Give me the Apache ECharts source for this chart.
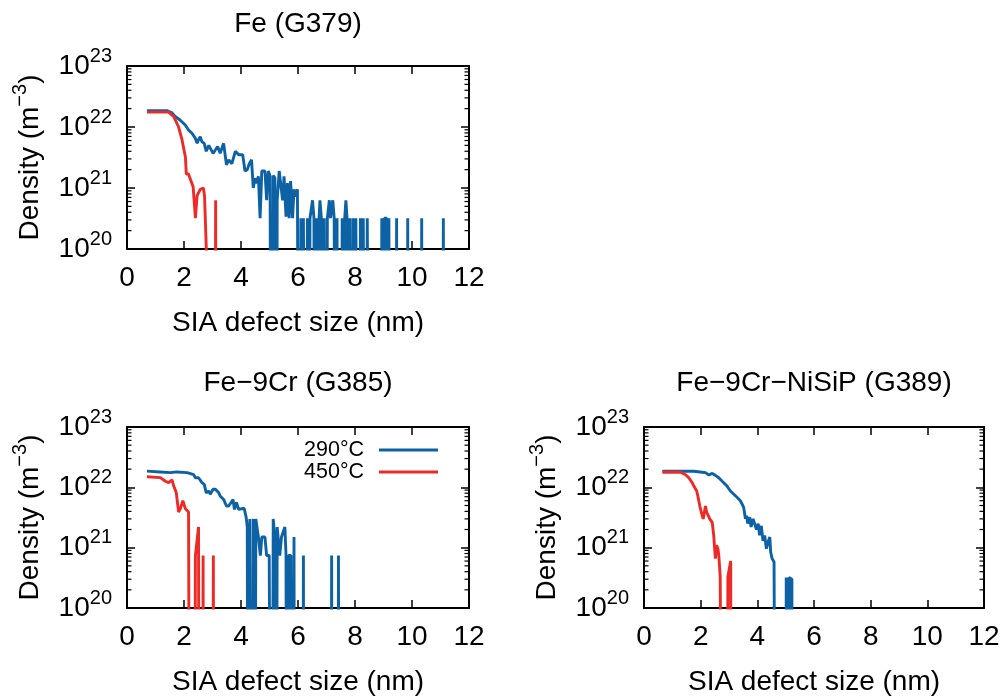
<!DOCTYPE html>
<html><head><meta charset="utf-8">
<script src="https://cdn.jsdelivr.net/npm/echarts@6/dist/echarts.min.js"></script>
<style>html,body{margin:0;padding:0;background:#fff}#c{width:1004px;height:697px}</style>
</head><body><div id="c"></div>
<script>
// ---------------- data (x: SIA defect size in nm, y: density in m^-3; 0 = no defects) ----------------
const panelTitles = ['Fe (G379)', 'Fe\u22129Cr (G385)', 'Fe\u22129Cr\u2212NiSiP (G389)'];
const seriesNames = ['290°C', '450°C'];
const xTickValues = [0, 2, 4, 6, 8, 10, 12];
const yDecades = [20, 21, 22, 23];

const fe290 = [
[0.70,1.85e22],[1.40,1.85e22],[1.58,1.7e22],[1.70,1.48e22],[1.87,1.29e22],[2.05,1.07e22],[2.16,8.9e21],[2.28,7.9e21],[2.40,6.5e21],[2.46,5.4e21],[2.51,6.2e21],[2.57,6.9e21],[2.63,5.7e21],[2.71,5.4e21],[2.78,4.0e21],[2.87,5.0e21],[2.92,4.5e21],[3.02,3.7e21],[3.10,4.2e21],[3.18,4.8e21],[3.27,3.7e21],[3.39,5.4e21],[3.49,2.4e21],[3.57,2.9e21],[3.68,2.5e21],[3.80,4.0e21],[3.92,3.5e21],[3.98,3.7e21],[4.06,3.5e21],[4.14,1.9e21],[4.22,2.0e21],[4.29,2.5e21],[4.37,2.9e21],[4.43,1.0e21],[4.49,1.45e21],[4.55,1.2e21],[4.61,1.55e21],[4.67,3.2e20],[4.73,1.9e21],[4.78,2.0e21],[4.84,1.9e21],[4.90,6.3e20],[4.96,1.9e21],[5.02,1.55e21],[5.08,0],[5.13,1.6e21],[5.19,1.45e21],[5.23,0],[5.27,6.3e20],[5.34,1.9e21],[5.39,1.2e21],[5.46,6.3e20],[5.51,1.55e21],[5.58,3.4e20],[5.63,1.2e21],[5.69,3.2e20],[5.74,1.3e21],[5.81,3.2e20],[5.86,9.5e20],[5.93,7.2e20],[5.98,9.5e20],[6.05,0],
[6.10,3.2e20],[6.15,0],[6.19,3.2e20],[6.24,3.2e20],[6.28,0],[6.33,3.2e20],[6.38,0],[6.42,3.2e20],[6.47,3.2e20],[6.51,6.3e20],[6.56,3.2e20],[6.60,0],[6.65,3.2e20],[6.70,0],[6.74,3.2e20],[6.77,6.3e20],[6.82,3.2e20],[6.87,0],[6.92,3.2e20],[6.97,0],[7.03,3.2e20],[7.10,6.3e20],[7.14,3.2e20],[7.18,3.2e20],[7.22,6.3e20],[7.27,3.2e20],[7.32,0],[7.37,3.2e20],[7.42,0],[7.50,0],[7.55,3.2e20],[7.60,0],[7.64,3.2e20],[7.68,6.3e20],[7.72,3.2e20],[7.77,0],[7.82,3.2e20],[7.87,0],[7.93,3.2e20],[7.98,0],[8.03,3.2e20],[8.08,3.2e20],[8.14,0],[8.19,3.2e20],[8.24,0],[8.29,3.2e20],[8.33,3.2e20],[8.38,0],[8.43,3.2e20],[8.49,3.2e20],[8.53,0],
[8.91,0],[8.94,3.2e20],[8.98,0],[9.03,3.2e20],[9.07,3.2e20],[9.11,3.2e20],[9.15,0],[9.19,3.2e20],[9.23,0],
[9.43,0],[9.46,3.2e20],[9.49,0],[9.82,0],[9.85,3.2e20],[9.88,0],[10.31,0],[10.34,3.2e20],[10.37,0],[11.07,0],[11.10,3.2e20],[11.13,0]
];
const fe450 = [
[0.70,1.75e22],[1.46,1.75e22],[1.64,1.48e22],[1.81,1.0e22],[1.93,6.2e21],[2.05,3.2e21],[2.08,1.7e21],[2.16,1.7e21],[2.22,1.4e21],[2.32,1.05e21],[2.40,3.2e20],[2.46,7.5e20],[2.57,9.5e20],[2.68,1.0e21],[2.72,7.5e20],[2.79,8e19],[2.80,0],
[3.07,0],[3.11,6.3e20],[3.14,0]
];
const fecr290 = [
[0.70,1.86e22],[1.17,1.8e22],[1.52,1.75e22],[1.75,1.8e22],[2.11,1.75e22],[2.34,1.62e22],[2.40,1.44e22],[2.46,1.54e22],[2.51,1.44e22],[2.63,1.2e22],[2.71,1.12e22],[2.78,8.1e21],[2.87,8.7e21],[2.92,7.7e21],[3.02,9.3e21],[3.10,9.3e21],[3.22,8.1e21],[3.27,7.2e21],[3.39,6.3e21],[3.49,4.9e21],[3.57,4.9e21],[3.63,5.2e21],[3.72,6.3e21],[3.77,4.3e21],[3.84,5.6e21],[3.92,4.3e21],[3.98,4.5e21],[4.11,4.5e21],[4.18,3.2e21],[4.22,2.2e21],[4.26,0],
[4.31,3.0e21],[4.35,0],[4.43,3.0e21],[4.47,0],[4.52,3.0e21],[4.56,3.0e21],[4.61,1.5e21],[4.68,7.4e20],[4.73,1.5e21],[4.78,1.5e21],[4.84,1.5e21],[4.90,7.4e20],[4.95,7.4e20],[4.99,7.4e20],[5.04,7.4e20],[5.08,0],[5.13,3.0e21],[5.19,1.4e21],[5.22,0],[5.27,2.2e21],[5.31,2.2e21],[5.36,7.4e20],[5.42,1.5e21],[5.48,1.4e21],[5.54,2.2e21],[5.58,7.4e20],[5.62,0],[5.67,7.4e20],[5.75,7.4e20],[5.80,0],[5.86,1.5e21],[5.89,0],
[6.16,0],[6.19,7.4e20],[6.22,0],[7.15,0],[7.18,7.4e20],[7.21,0],[7.39,0],[7.42,7.4e20],[7.45,0]
];
const fecr450 = [
[0.70,1.5e22],[1.17,1.45e22],[1.35,1.26e22],[1.46,1.2e22],[1.58,1.33e22],[1.64,1.05e22],[1.73,8.1e21],[1.81,3.9e21],[1.87,4.4e21],[1.96,6.0e21],[2.05,4.4e21],[2.11,4.7e21],[2.16,3.9e21],[2.20,3.9e21],[2.22,0],
[2.36,0],[2.40,7.4e20],[2.51,2.2e21],[2.54,0],[2.64,0],[2.67,7.4e20],[2.70,0],[2.99,0],[3.03,7.4e20],[3.06,0]
];
const nisip290 = [
[0.65,1.85e22],[1.76,1.85e22],[2.05,1.78e22],[2.17,1.75e22],[2.29,1.6e22],[2.41,1.7e22],[2.52,1.58e22],[2.64,1.44e22],[2.76,1.26e22],[2.82,1.2e22],[2.93,1.05e22],[3.05,8.7e21],[3.17,7.7e21],[3.29,6.8e21],[3.40,6.0e21],[3.46,5.3e21],[3.52,4.6e21],[3.58,3.0e21],[3.62,3.4e21],[3.66,2.5e21],[3.73,3.2e21],[3.78,2.2e21],[3.85,3.0e21],[3.91,3.0e21],[3.97,2.0e21],[4.03,2.5e21],[4.08,1.6e21],[4.14,2.3e21],[4.20,1.3e21],[4.26,1.6e21],[4.32,9.6e20],[4.38,1.24e21],[4.44,1.5e21],[4.47,8.5e20],[4.52,6.6e20],[4.59,5.8e20],[4.64,6.2e20],[4.67,0],
[5.00,0],[5.02,3.2e20],[5.08,3.2e20],[5.10,0],[5.12,3.2e20],[5.22,3.0e20],[5.24,0]
];
const nisip450 = [
[0.65,1.78e22],[1.29,1.78e22],[1.47,1.62e22],[1.58,1.44e22],[1.70,1.2e22],[1.76,1.05e22],[1.86,8.7e21],[1.90,7.2e21],[1.97,4.9e21],[2.02,3.9e21],[2.09,3.0e21],[2.17,4.9e21],[2.21,3.9e21],[2.25,4.1e21],[2.32,3.0e21],[2.41,2.6e21],[2.46,1.6e21],[2.52,6.6e20],[2.56,1.1e21],[2.61,9.6e20],[2.64,7.4e20],[2.69,3.3e20],[2.74,3.3e20],[2.79,0],
[2.92,0],[2.96,3.3e20],[3.06,6.0e20],[3.09,0]
];

// ---------------- layout / style ----------------
const FONT = "'Liberation Sans', Arial, Helvetica, sans-serif";
const BLUE = '#0d62a6';
const RED = '#ee2a27';
const LW = 2.9;
const grids = [
  {left:127, top:66, width:342, height:183},
  {left:127, top:427, width:342, height:183},
  {left:644, top:427, width:340, height:183}
];
const titleTops = [10, 369, 369];
const panelData = [[fe290, fe450], [fecr290, fecr450], [nisip290, nisip450]];

const FLOOR = 1e12; // stand-in for zero on the log axis (far below the axis minimum)
const toPlot = arr => arr.map(([x, y]) => [x, y > 0 ? y : FLOOR]);

const minorVals = [];
for (let i = 0; i < yDecades.length - 1; i++)
  for (let m = 2; m <= 9; m++) minorVals.push([0, m * Math.pow(10, yDecades[i])]);

const yMin = Math.pow(10, yDecades[0]), yMax = Math.pow(10, yDecades[yDecades.length - 1]);

const xAxes = [], yAxes = [], series = [], titles = [];
grids.forEach((g, i) => {
  const base = {
    type:'value', min:xTickValues[0], max:xTickValues[xTickValues.length-1], interval:2, gridIndex:i,
    splitLine:{show:false},
    axisLine:{show:true, onZero:false, lineStyle:{color:'#000', width:2}},
    axisTick:{show:true, inside:true, length:8, lineStyle:{color:'#000', width:1.5}}
  };
  xAxes.push(Object.assign({}, base, {
    position:'bottom',
    axisLabel:{show:true, margin:15, fontSize:28, color:'#000', fontFamily:FONT},
    name:'SIA defect size (nm)', nameLocation:'middle', nameGap:60,
    nameTextStyle:{fontSize:28, color:'#000', fontFamily:FONT}
  }));
  xAxes.push(Object.assign({}, base, {position:'top', axisLabel:{show:false}}));
  const ybase = {
    type:'log', logBase:10, min:yMin, max:yMax, gridIndex:i,
    splitLine:{show:false},
    axisLine:{show:true, onZero:false, lineStyle:{color:'#000', width:2}},
    axisTick:{show:true, inside:true, length:8, lineStyle:{color:'#000', width:1.5}}
  };
  yAxes.push(Object.assign({}, ybase, {
    position:'left',
    axisLabel:{
      show:true, margin:15, color:'#000', fontFamily:FONT,
      formatter: v => '{b|10}{s|' + Math.round(Math.log10(v)) + '}',
      rich:{
        b:{fontSize:28, lineHeight:40, color:'#000', fontFamily:FONT},
        s:{fontSize:20, lineHeight:20, verticalAlign:'top', color:'#000', fontFamily:FONT}
      }
    },
    name:'Density (m{s|\u22123})', nameLocation:'middle', nameGap:77,
    nameTextStyle:{fontSize:28, lineHeight:40, color:'#000', fontFamily:FONT,
      rich:{s:{fontSize:20, lineHeight:20, verticalAlign:'top', color:'#000', fontFamily:FONT}}}
  }));
  yAxes.push(Object.assign({}, ybase, {position:'right', axisLabel:{show:false}}));

  const [d290, d450] = panelData[i];
  series.push({
    name:seriesNames[0], type:'line', xAxisIndex:2*i, yAxisIndex:2*i,
    data:toPlot(d290), showSymbol:false, symbol:'none', clip:true, z:3,
    color:BLUE, lineStyle:{color:BLUE, width:LW}, animation:false
  });
  series.push({
    name:seriesNames[1], type:'line', xAxisIndex:2*i, yAxisIndex:2*i,
    data:toPlot(d450), showSymbol:false, symbol:'none', clip:true, z:4,
    color:RED, lineStyle:{color:RED, width:LW}, animation:false
  });
  series.push({
    type:'custom', xAxisIndex:2*i, yAxisIndex:2*i, data:minorVals, silent:true, animation:false, z:5,
    renderItem:(params, api) => {
      const cs = params.coordSys;
      const y = api.coord([0, api.value(1)])[1];
      const st = {stroke:'#000', lineWidth:1.2};
      return {type:'group', children:[
        {type:'line', shape:{x1:cs.x, y1:y, x2:cs.x+4.5, y2:y}, style:st},
        {type:'line', shape:{x1:cs.x+cs.width-4.5, y1:y, x2:cs.x+cs.width, y2:y}, style:st}
      ]};
    }
  });
  titles.push({
    text:panelTitles[i], left:g.left + g.width/2, top:titleTops[i], textAlign:'center', padding:0,
    textStyle:{fontSize:28, fontWeight:'normal', color:'#000', fontFamily:FONT}
  });
});

const chart = echarts.init(document.getElementById('c'), null, {renderer:'canvas'});
chart.setOption({
  animation:false,
  backgroundColor:'#fff',
  title:titles,
  grid:grids.map(g => Object.assign({containLabel:false}, g)),
  xAxis:xAxes,
  yAxis:yAxes,
  legend:{
    data:seriesNames.map(n => ({name:n, icon:'rect'})),
    orient:'vertical', right:561, top:434, align:'right',
    itemWidth:59, itemHeight:3, itemGap:0, selectedMode:false,
    textStyle:{fontSize:21.5, lineHeight:21, color:'#000', fontFamily:FONT, padding:[0,10,0,0]}
  },
  series:series
});
</script>
</body></html>
